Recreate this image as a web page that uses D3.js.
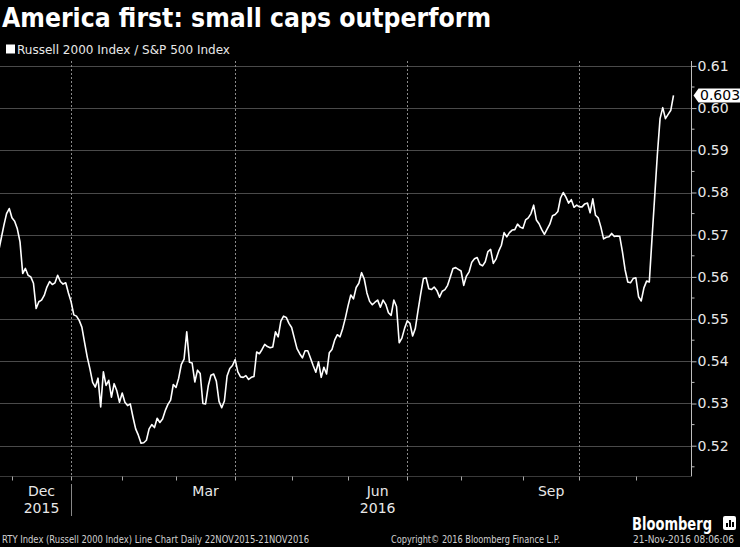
<!DOCTYPE html>
<html><head><meta charset="utf-8">
<script src="https://cdn.jsdelivr.net/npm/d3@7"></script>
<style>html,body{margin:0;padding:0;background:#000;} svg{display:block;}</style>
</head><body>
<svg id="c" width="740" height="547"></svg>
<script>
// ---------- data ----------
const chartTitle = "America first: small caps outperform";
const seriesName = "Russell 2000 Index / S&P 500 Index";
// Daily ratio, one value per trading session, 23 Nov 2015 .. 21 Nov 2016
const ratio = [
 .5659,.5691,.5722,.5750,.5762,.5740,.5732,.5714,.5683,.5608,
 .5620,.5604,.5600,.5585,.5525,.5541,.5545,.5556,.5576,.5589,
 .5582,.5586,.5604,.5589,.5583,.5586,.5562,.5541,.5510,.5507,
 .5497,.5481,.5445,.5410,.5382,.5350,.5339,.5360,.5292,.5375,
 .5343,.5355,.5315,.5347,.5330,.5303,.5325,.5303,.5295,.5299,
 .5268,.5240,.5225,.5206,.5207,.5213,.5240,.5250,.5243,.5265,
 .5255,.5263,.5283,.5298,.5308,.5345,.5338,.5360,.5393,.5405,
 .5470,.5398,.5396,.5351,.5379,.5371,.5300,.5299,.5342,.5367,
 .5370,.5353,.5305,.5290,.5306,.5365,.5383,.5390,.5404,.5375,
 .5363,.5362,.5366,.5357,.5362,.5364,.5422,.5418,.5428,.5440,
 .5435,.5432,.5434,.5470,.5458,.5495,.5507,.5504,.5490,.5480,
 .5455,.5430,.5418,.5408,.5425,.5425,.5408,.5390,.5374,.5399,
 .5362,.5386,.5370,.5420,.5428,.5450,.5463,.5458,.5478,.5503,
 .5532,.5557,.5548,.5575,.5585,.5610,.5595,.5562,.5542,.5534,
 .5540,.5545,.5528,.5545,.5535,.5515,.5509,.5545,.5530,.5444,
 .5455,.5478,.5496,.5490,.5460,.5478,.5520,.5560,.5596,.5598,
 .5572,.5570,.5576,.5568,.5552,.5566,.5570,.5580,.5600,.5620,
 .5622,.5618,.5614,.5580,.5602,.5612,.5635,.5643,.5646,.5630,
 .5626,.5636,.5660,.5665,.5632,.5642,.5661,.5675,.5705,.5695,
 .5705,.5711,.5712,.5725,.5718,.5715,.5735,.5740,.5750,.5770,
 .5735,.5726,.5712,.5701,.5713,.5725,.5745,.5748,.5755,.5787,
 .5800,.5789,.5775,.5783,.5765,.5770,.5766,.5766,.5773,.5775,
 .5752,.5785,.5746,.5740,.5718,.5690,.5694,.5695,.5703,.5696,
 .5697,.5696,.5660,.5617,.5588,.5586,.5596,.5598,.5553,.5543,
 .5574,.5590,.5588,.5690,.5790,.5890,.5975,.6001,.5975,.5985,
 .5995,.6030
];
// first trading session of each month, Dec 2015 .. Nov 2016
const monthStarts = [5,27,46,66,88,109,130,152,172,195,216,237];
const monthNames  = ["Dec","Jan","Feb","Mar","Apr","May","Jun","Jul","Aug","Sep","Oct","Nov"];
const labelledMonths = ["Dec","Mar","Jun","Sep"];
const quarterStarts = [27,88,152,216];
const yearLabels = [{text:"2015", month:"Dec"},{text:"2016", month:"Jun"}];
const yTicks = [0.52,0.53,0.54,0.55,0.56,0.57,0.58,0.59,0.60,0.61];
const yMinorTicks = [0.515,0.525,0.535,0.545,0.555,0.565,0.575,0.585,0.595,0.605];
const lastValueText = "0.603";
const footerLeft = "RTY Index (Russell 2000 Index) Line Chart  Daily 22NOV2015-21NOV2016";
const footerMid = "Copyright\u00A9 2016 Bloomberg Finance L.P.";
const footerRight = "21-Nov-2016 08:06:06";
const brand = "Bloomberg";

// ---------- layout ----------
const svg = d3.select("#c");
const W = 740, H = 547;
svg.append("rect").attr("width",W).attr("height",H).attr("fill","#000");
const FONT = "DejaVu Sans, Verdana, sans-serif";
const axisX = 691.5, plotTop = 61, plotBottom = 476.5;

const x = d3.scaleLinear().domain([0, ratio.length-1]).range([-1.5, 673.5]);
const y = d3.scaleLinear().domain([0.52, 0.61]).range([445.7, 65.9]);

// horizontal grid
svg.append("g").selectAll("line").data(yTicks).join("line")
  .attr("x1",0).attr("x2",axisX)
  .attr("y1",d=>Math.round(y(d))+0.5).attr("y2",d=>Math.round(y(d))+0.5)
  .attr("stroke","#4a4a4a").attr("stroke-width",1).attr("shape-rendering","crispEdges");
// vertical grid
svg.append("g").selectAll("line").data(quarterStarts).join("line")
  .attr("x1",d=>Math.round(x(d))+0.5).attr("x2",d=>Math.round(x(d))+0.5).attr("y1",plotTop).attr("y2",plotBottom)
  .attr("stroke","#8a8a8a").attr("stroke-width",1).attr("stroke-dasharray","2,2")
  .attr("shape-rendering","crispEdges");

// right axis
const yAxis = d3.axisRight(y).tickValues(yTicks).tickSize(5).tickFormat(d3.format(".2f"));
const ga = svg.append("g").attr("transform",`translate(${axisX},0)`).call(yAxis);
ga.select(".domain").remove();
ga.selectAll("line").attr("stroke","#bdbdbd");
ga.selectAll("text").attr("fill","#e8e8e8").attr("font-family",FONT).attr("font-size",14).attr("x",6);
svg.append("line").attr("x1",axisX).attr("x2",axisX).attr("y1",plotTop).attr("y2",plotBottom)
  .attr("stroke","#bdbdbd");
svg.append("g").selectAll("line").data(yMinorTicks).join("line")
  .attr("x1",axisX).attr("x2",axisX+3).attr("y1",d=>y(d)).attr("y2",d=>y(d)).attr("stroke","#bdbdbd");

// bottom axis with month ticks
svg.append("line").attr("x1",0).attr("x2",axisX).attr("y1",plotBottom).attr("y2",plotBottom)
  .attr("stroke","#3a3a3a");
svg.append("g").selectAll("line").data(monthStarts).join("line")
  .attr("x1",d=>Math.round(x(d))+0.5).attr("x2",d=>Math.round(x(d))+0.5).attr("y1",plotBottom).attr("y2",plotBottom+4)
  .attr("stroke","#aaa");
const monthMid = name => {
  const i = monthNames.indexOf(name);
  const a = monthStarts[i], b = i+1 < monthStarts.length ? monthStarts[i+1] : ratio.length;
  return x((a+b)/2);
};
svg.append("g").selectAll("text").data(labelledMonths).join("text")
  .attr("x",d=>monthMid(d)).attr("y",496).attr("text-anchor","middle")
  .attr("fill","#e8e8e8").attr("font-family",FONT).attr("font-size",14).text(d=>d);
svg.append("g").selectAll("text").data(yearLabels).join("text")
  .attr("x",d=>monthMid(d.month)).attr("y",513).attr("text-anchor","middle")
  .attr("fill","#e8e8e8").attr("font-family",FONT).attr("font-size",14).text(d=>d.text);
svg.append("line").attr("x1",Math.round(x(monthStarts[1]))+0.5).attr("x2",Math.round(x(monthStarts[1]))+0.5)
  .attr("y1",484).attr("y2",516).attr("stroke","#888");

// the series line
const line = d3.line().x((d,i)=>x(i)).y(d=>y(d));
svg.append("path").datum(ratio).attr("d",line).attr("fill","none")
  .attr("stroke","#fff").attr("stroke-width",1.6).attr("stroke-linejoin","round");

// last value tag
const lv = ratio[ratio.length-1], ly = y(lv);
svg.append("path")
  .attr("d",`M${axisX+2},${ly} L${axisX+7},${ly-7} L740,${ly-7} L740,${ly+7} L${axisX+7},${ly+7} Z`)
  .attr("fill","#fff");
svg.append("text").attr("x",700).attr("y",ly).attr("dy","0.36em")
  .attr("fill","#000").attr("font-family",FONT).attr("font-size",14).text(lastValueText);

// title + legend
svg.append("text").attr("x",2).attr("y",27).attr("fill","#fff").attr("font-family",FONT)
  .attr("font-weight","bold").attr("font-size",26).attr("textLength",489).attr("lengthAdjust","spacingAndGlyphs")
  .text(chartTitle);
svg.append("rect").attr("x",6).attr("y",44.5).attr("width",9).attr("height",9).attr("fill","#fff");
svg.append("text").attr("x",17).attr("y",54).attr("fill","#e8e8e8").attr("font-family",FONT)
  .attr("font-size",13).attr("textLength",213).attr("lengthAdjust","spacingAndGlyphs").text(seriesName);

// footer
const foot = (t,xx,len) => svg.append("text").attr("x",xx).attr("y",543)
  .attr("fill","#d0d0d0").attr("font-family",FONT).attr("font-size",10.5)
  .attr("textLength",len).attr("lengthAdjust","spacingAndGlyphs").text(t);
foot(footerLeft,2,307);
foot(footerMid,391,169);
foot(footerRight,633,101);
svg.append("text").attr("x",632).attr("y",530).attr("fill","#fff")
  .attr("font-family",FONT).attr("font-weight","bold").attr("font-size",17)
  .attr("textLength",80).attr("lengthAdjust","spacingAndGlyphs").text(brand);
// small logo glyph
const lg = svg.append("g").attr("transform","translate(723,516)");
lg.append("rect").attr("width",13).attr("height",14).attr("rx",2).attr("fill","#fff");
[[3,7],[6,4],[9,6]].forEach(([bx,by])=>lg.append("rect").attr("x",bx).attr("y",by).attr("width",2).attr("height",11-by).attr("fill","#000"));
</script>
</body></html>
